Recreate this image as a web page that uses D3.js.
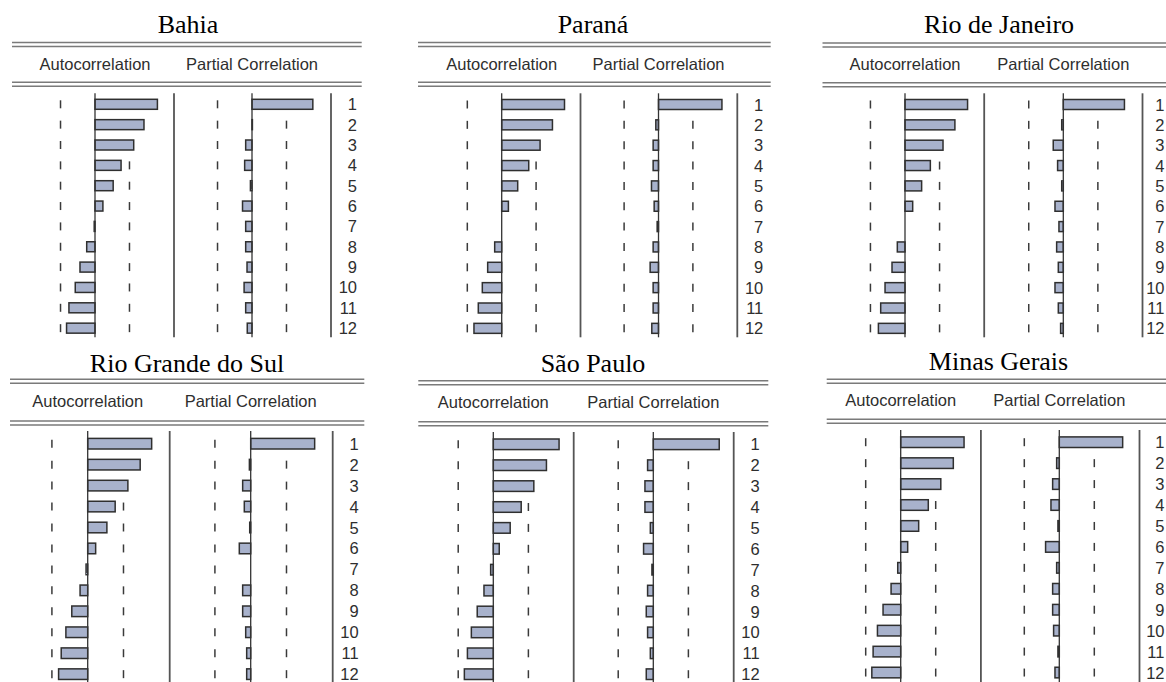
<!DOCTYPE html>
<html>
<head>
<meta charset="utf-8">
<script src="https://cdn.jsdelivr.net/npm/d3@7"></script>
<style>
  html, body { margin: 0; padding: 0; background: #fff; }
  svg { display: block; }
</style>
</head>
<body>
<svg id="chart" width="1166" height="682"></svg>
<script>
// Correlograms (ACF / PACF, lags 1–12) for six Brazilian states.
const lags = [1, 2, 3, 4, 5, 6, 7, 8, 9, 10, 11, 12];
const states = ["Bahia", "Paraná", "Rio de Janeiro", "Rio Grande do Sul", "São Paulo", "Minas Gerais"];

// Number of observations behind the ±2/√n bands
const sampleSize = 21;

const acBahia  = [0.79, 0.62, 0.49, 0.33, 0.23, 0.10, -0.01, -0.105, -0.19, -0.25, -0.33, -0.36];
const pacBahia = [0.77, 0.005, -0.08, -0.093, -0.02, -0.12, -0.08, -0.08, -0.063, -0.10, -0.08, -0.06];

const acParana  = [0.797, 0.644, 0.487, 0.343, 0.203, 0.085, 0.0, -0.089, -0.178, -0.246, -0.297, -0.352];
const pacParana = [0.805, -0.034, -0.068, -0.068, -0.089, -0.055, -0.017, -0.068, -0.106, -0.068, -0.068, -0.085];

const acRio  = [0.79, 0.63, 0.48, 0.32, 0.21, 0.097, 0.0, -0.097, -0.164, -0.252, -0.307, -0.336];
const pacRio = [0.772, -0.02, -0.127, -0.072, -0.02, -0.105, -0.055, -0.084, -0.063, -0.105, -0.063, -0.034];

const acRGS  = [0.78, 0.64, 0.49, 0.335, 0.234, 0.097, -0.02, -0.093, -0.194, -0.266, -0.323, -0.355];
const pacRGS = [0.78, -0.016, -0.098, -0.078, -0.012, -0.139, 0.0, -0.098, -0.098, -0.061, -0.049, -0.049];

const acSaoPaulo  = [0.818, 0.661, 0.504, 0.347, 0.21, 0.074, -0.033, -0.116, -0.20, -0.273, -0.322, -0.36];
const pacSaoPaulo = [0.82, -0.071, -0.104, -0.104, -0.037, -0.121, -0.017, -0.071, -0.0875, -0.071, -0.037, -0.0875];

const acMinas  = [0.79, 0.656, 0.50, 0.344, 0.224, 0.087, -0.037, -0.12, -0.22, -0.29, -0.344, -0.36];
const pacMinas = [0.79, -0.033, -0.083, -0.104, -0.017, -0.171, -0.033, -0.083, -0.083, -0.071, -0.017, -0.054];

const acSeries  = [acBahia, acParana, acRio, acRGS, acSaoPaulo, acMinas];
const pacSeries = [pacBahia, pacParana, pacRio, pacRGS, pacSaoPaulo, pacMinas];

// Panel geometry (pixels)
const layout = [
  { acZero: 95,    pacZero: 252,    unit: 79,   x0: 12,    x1: 361.7, titleX: 188,   titleY: 33,    rule1: 42.5,  rule2: 82.3,  headY: 70,    row1: 104.3, step: 20.35, barH: 10,   vTop: 93.3,  vBot: 337.3 },
  { acZero: 501.7, pacZero: 658.5,  unit: 78.8, x0: 418,   x1: 770.7, titleX: 593,   titleY: 33,    rule1: 42.5,  rule2: 82.3,  headY: 70,    row1: 104.5, step: 20.35, barH: 10,   vTop: 93.3,  vBot: 337.3 },
  { acZero: 905,   pacZero: 1063.3, unit: 79.2, x0: 822.5, x1: 1170,  titleX: 999,   titleY: 33,    rule1: 43,    rule2: 82.8,  headY: 70,    row1: 104.5, step: 20.35, barH: 10,   vTop: 93.3,  vBot: 337.3 },
  { acZero: 87.7,  pacZero: 250.7,  unit: 82,   x0: 10,    x1: 364.3, titleX: 187,   titleY: 371.7, rule1: 379.3, rule2: 421,   headY: 406.7, row1: 443.7, step: 20.95, barH: 10.6, vTop: 431,   vBot: 682 },
  { acZero: 493.3, pacZero: 653.3,  unit: 80.4, x0: 418.3, x1: 768.3, titleX: 593,   titleY: 371.7, rule1: 380.7, rule2: 421.7, headY: 407.5, row1: 444.3, step: 20.9,  barH: 10.6, vTop: 432,   vBot: 682 },
  { acZero: 900.7, pacZero: 1059.3, unit: 80.2, x0: 826.7, x1: 1170,  titleX: 998.5, titleY: 370,   rule1: 379.3, rule2: 419.3, headY: 406,   row1: 442.2, step: 20.94, barH: 10.6, vTop: 430,   vBot: 682 }
];

const band = 2 / Math.sqrt(sampleSize);
const pageWidth = 1166;

const svg = d3.select("#chart");

states.forEach((name, i) => {
  const L = layout[i];
  const g = svg.append("g").attr("class", "panel");

  const xAC  = d3.scaleLinear().domain([-1, 1]).range([L.acZero - L.unit, L.acZero + L.unit]);
  const xPAC = d3.scaleLinear().domain([-1, 1]).range([L.pacZero - L.unit, L.pacZero + L.unit]);
  const y = d3.scalePoint().domain(lags).range([L.row1, L.row1 + (lags.length - 1) * L.step]);

  // State title
  g.append("text")
    .attr("x", L.titleX).attr("y", L.titleY)
    .attr("text-anchor", "middle")
    .attr("font-family", "'Liberation Serif', 'Times New Roman', serif")
    .attr("font-size", 26)
    .attr("fill", "#000")
    .text(name);

  // Double rules above and below the column header
  [L.rule1, L.rule2].forEach(ry => {
    [0, 4].forEach(off => {
      g.append("line")
        .attr("x1", L.x0).attr("x2", L.x1)
        .attr("y1", ry + off).attr("y2", ry + off)
        .attr("stroke", "#7a7a7a").attr("stroke-width", 1.6);
    });
  });

  // Column headers
  const headFont = "'Liberation Sans', Arial, sans-serif";
  g.append("text")
    .attr("x", xAC(0)).attr("y", L.headY)
    .attr("text-anchor", "middle")
    .attr("font-family", headFont).attr("font-size", 16.5)
    .attr("fill", "#2e2e2e")
    .text("Autocorrelation");
  g.append("text")
    .attr("x", xPAC(0)).attr("y", L.headY)
    .attr("text-anchor", "middle")
    .attr("font-family", headFont).attr("font-size", 16.5)
    .attr("fill", "#2e2e2e")
    .text("Partial Correlation");

  // Significance band ticks, one pair per lag
  [xAC, xPAC].forEach(x => {
    [-band, band].forEach(b => {
      g.selectAll(null)
        .data(lags)
        .enter().append("line")
        .attr("x1", x(b)).attr("x2", x(b))
        .attr("y1", d => y(d) - 4).attr("y2", d => y(d) + 4)
        .attr("stroke", "#3a3a3a").attr("stroke-width", 1.5);
    });
  });

  // Bars
  const drawBars = (vals, x) => {
    g.selectAll(null)
      .data(lags)
      .enter().append("rect")
      .attr("x", (d, k) => Math.min(x(0), x(vals[k])))
      .attr("width", (d, k) => Math.abs(x(vals[k]) - x(0)))
      .attr("y", d => y(d) - L.barH / 2)
      .attr("height", L.barH)
      .attr("fill", "#a8b2cc")
      .attr("stroke", "#2f2f2f")
      .attr("stroke-width", 1.5);
  };
  drawBars(acSeries[i], xAC);
  drawBars(pacSeries[i], xPAC);

  // Zero lines and column separators
  [xAC(0), xPAC(0)].forEach(vx => {
    g.append("line")
      .attr("x1", vx).attr("x2", vx)
      .attr("y1", L.vTop).attr("y2", L.vBot)
      .attr("stroke", "#333").attr("stroke-width", 1.3);
  });
  [xAC(1), xPAC(1)].forEach(vx => {
    g.append("line")
      .attr("x1", vx).attr("x2", vx)
      .attr("y1", L.vTop).attr("y2", L.vBot)
      .attr("stroke", "#555").attr("stroke-width", 1.8);
  });

  // Lag numbers, kept inside the page on the rightmost panels
  const lagX = Math.min(xPAC(1) + 26, pageWidth - 1.5);
  g.selectAll(null)
    .data(lags)
    .enter().append("text")
    .attr("x", lagX)
    .attr("y", d => y(d) + 6)
    .attr("text-anchor", "end")
    .attr("font-family", headFont).attr("font-size", 16.5)
    .attr("fill", "#2e2e2e")
    .text(d => d);
});
</script>
</body>
</html>
